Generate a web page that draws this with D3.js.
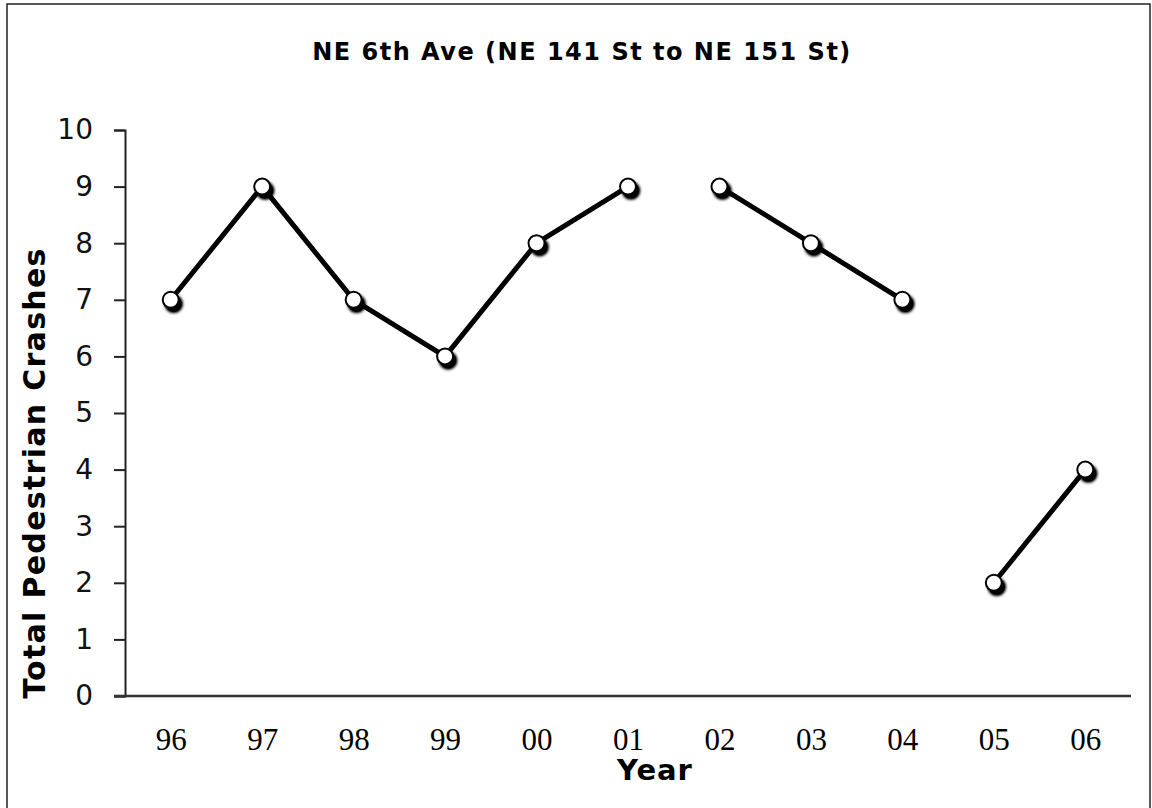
<!DOCTYPE html>
<html><head><meta charset="utf-8">
<script src="https://cdn.jsdelivr.net/npm/d3@7"></script>
<style>body{margin:0;background:#fff}</style>
</head><body>
<svg id="c" width="1152" height="808"></svg>
<script>
const years = ["96","97","98","99","00","01","02","03","04","05","06"];
const crashes = [7,9,7,6,8,9,9,8,7,2,4];
const segments = [["96","97","98","99","00","01"],["02","03","04"],["05","06"]];
const yTicks = [0,1,2,3,4,5,6,7,8,9,10];
const title = "NE 6th Ave (NE 141 St to NE 151 St)";
const xTitle = "Year";
const yTitle = "Total Pedestrian Crashes";

const svg = d3.select("#c");
const defs = svg.append("defs");
const f = defs.append("filter").attr("id","sh").attr("x","-50%").attr("y","-50%").attr("width","200%").attr("height","200%");
f.append("feGaussianBlur").attr("in","SourceAlpha").attr("stdDeviation",1.6).attr("result","b");
f.append("feOffset").attr("in","b").attr("dx",3).attr("dy",3.5).attr("result","o");
f.append("feComponentTransfer").attr("in","o").attr("result","o2").append("feFuncA").attr("type","linear").attr("slope",1.3);
const m = f.append("feMerge");
m.append("feMergeNode").attr("in","o2");
m.append("feMergeNode").attr("in","SourceGraphic");

svg.append("rect").attr("x",7).attr("y",4).attr("width",1143).attr("height",810)
  .attr("fill","none").attr("stroke","#222").attr("stroke-width",1.5);

const x = d3.scalePoint().domain(years).range([125,1131]).padding(0.5);
const y = d3.scaleLinear().domain([0,10]).range([696,130]);

svg.append("text").attr("x",582).attr("y",60).attr("text-anchor","middle")
  .style("font-family","DejaVu Sans").style("font-weight","bold").style("font-size","24px")
  .style("letter-spacing","1.5px")
  .text(title);

// y axis
const ya = svg.append("g").attr("transform","translate(125,0)")
  .call(d3.axisLeft(y).tickValues(yTicks).tickSize(11).tickPadding(21).tickFormat(d3.format("d")));
ya.select(".domain").attr("stroke","#222").attr("stroke-width",2);
ya.selectAll(".tick line").attr("stroke","#222").attr("stroke-width",2);
ya.selectAll(".tick text").style("font-family","DejaVu Sans").style("font-size","28px").attr("fill","#111");

// x axis
const xa = svg.append("g").attr("transform","translate(0,696)")
  .call(d3.axisBottom(x).tickSize(0).tickPadding(30));
xa.select(".domain").attr("d","M114,0H1131").attr("stroke","#333").attr("stroke-width",2.5);
xa.selectAll(".tick text").style("font-family","Liberation Serif").style("font-size","31px").attr("fill","#000").attr("dy","0");
xa.selectAll(".tick text").attr("y",54);

svg.append("text").attr("x",655).attr("y",780).attr("text-anchor","middle")
  .style("font-family","DejaVu Sans").style("font-weight","bold").style("font-size","29px")
  .style("letter-spacing","1px").text(xTitle);
svg.append("text").attr("transform","translate(45,473) rotate(-90)").attr("text-anchor","middle")
  .style("font-family","DejaVu Sans").style("font-weight","bold").style("font-size","30px")
  .style("letter-spacing","1.3px").text(yTitle);

const val = {};
years.forEach((yr,i)=>val[yr]=crashes[i]);
const line = d3.line().x(d=>x(d)).y(d=>y(val[d]));
svg.append("g").selectAll("path").data(segments).join("path")
  .attr("d",line).attr("fill","none").attr("stroke","#000").attr("stroke-width",5);

svg.append("g").attr("filter","url(#sh)").selectAll("circle").data(years).join("circle")
  .attr("cx",d=>x(d)).attr("cy",d=>y(val[d])).attr("r",8)
  .attr("fill","#fff").attr("stroke","#000").attr("stroke-width",2);
</script>
</body></html>
